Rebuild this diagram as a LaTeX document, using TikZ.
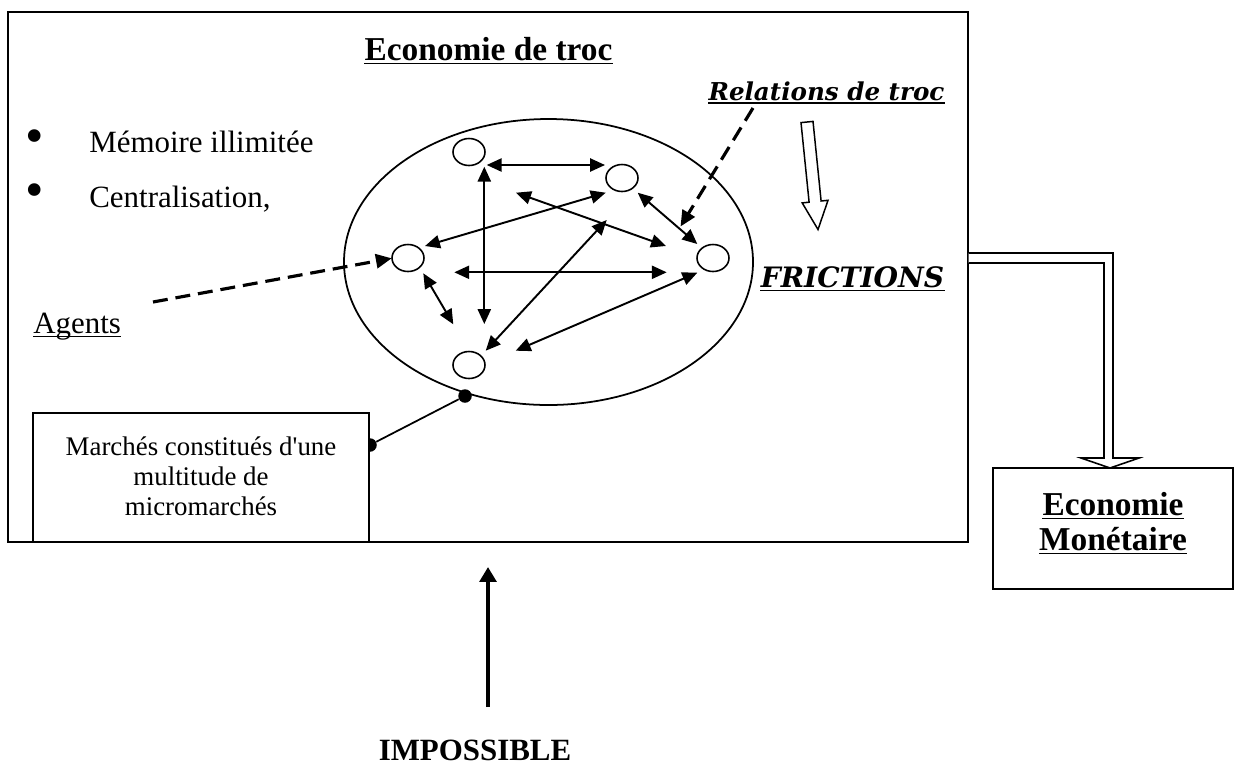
\documentclass[tikz,border=0pt]{standalone}
\usepackage{fontspec}
\setmainfont{Liberation Serif}[Ligatures=TeXOff]
\newfontfamily\dvs{DejaVu Serif}
\usetikzlibrary{arrows.meta,calc,shapes.geometric}
\begin{document}
\begin{tikzpicture}[x=0.02cm,y=-0.02cm,
  frame/.style={draw,line width=1.1pt},
  agent/.style={draw,ellipse,line width=0.9pt,minimum width=0.64cm,minimum height=0.54cm,inner sep=0pt},
  dbl/.style={{Triangle[length=8.5pt,width=7.5pt]}-{Triangle[length=8.5pt,width=7.5pt]},line width=1.1pt},
  dsh/.style={-{Triangle[length=9pt,width=8pt]},line width=1.8pt,dash pattern=on 8.5pt off 4.5pt},
  txt/.style={inner sep=0pt,anchor=base},
  ulline/.style={line width=1.1pt},
  dot/.style={circle,fill,inner sep=0pt,minimum size=0.27cm}]
\useasboundingbox (0,0) rectangle (1239,765);
% main frame
\draw[frame,fill=white] (8,12) rectangle (968,542);
% title
\node[txt,font=\fontsize{19}{22}\selectfont\bfseries] (title) at (488.5,60) {Economie de troc};
\draw[ulline] ([yshift=-2pt]title.base west) -- ([yshift=-2pt]title.base east);
% bullets
\node[inner sep=0pt,font=\fontsize{30}{30}\selectfont] (b1) at (35,142) {\textbullet};
\node[txt,anchor=base west,font=\fontsize{17.6}{20}\selectfont] (t1) at (89,152) {Mémoire illimitée};
\node[inner sep=0pt,font=\fontsize{30}{30}\selectfont] (b2) at (35,196) {\textbullet};
\node[txt,anchor=base west,font=\fontsize{17.6}{20}\selectfont] (t2) at (89,207) {Centralisation,};
% agents label
\node[txt,anchor=base west,font=\fontsize{17.6}{20}\selectfont] (agents) at (33,333) {Agents};
\draw[line width=0.7pt] ([yshift=-2pt]agents.base west) -- ([yshift=-2pt]agents.base east);
% relations / frictions
\node[txt,font=\fontsize{14}{16}\selectfont\dvs\bfseries\itshape] (rel) at (826.5,100) {Relations de troc};
\draw[ulline] ([yshift=-1.5pt]rel.base west) -- ([yshift=-1.5pt]rel.base east);
\node[txt,font=\fontsize{16}{18}\selectfont\dvs\bfseries\itshape] (fric) at (852.5,287) {FRICTIONS};
\draw[ulline] ([yshift=-2pt]fric.base west) -- ([yshift=-2pt]fric.base east);
% hollow arrow relations -> frictions
\draw[line width=0.85pt,fill=white] (801,122.6) -- (813,121.4) -- (821.1,201) -- (828,200.3) -- (818,229.5) -- (802.2,202.9) -- (809.1,202.2) -- cycle;
% big ellipse
\draw[line width=1pt] (548.5,262) ellipse [x radius=204.5, y radius=143];
% agent circles
\node[agent] (ag1) at (469,152) {};
\node[agent] (ag2) at (622,178) {};
\node[agent] (ag3) at (408,258) {};
\node[agent] (ag4) at (713,258) {};
\node[agent] (ag5) at (469,365) {};
% arrow end coordinates
\coordinate (p1a) at (486.7,165);   \coordinate (p1b) at (605,165);
\coordinate (p2a) at (484.3,166.7); \coordinate (p2b) at (484.3,324);
\coordinate (p3a) at (425,246);     \coordinate (p3b) at (605.7,192.7);
\coordinate (p4a) at (516,192.7);   \coordinate (p4b) at (666,246);
\coordinate (p5a) at (454.3,272.3); \coordinate (p5b) at (666.7,272.3);
\coordinate (p6a) at (423.3,273.3); \coordinate (p6b) at (453.3,324.3);
\coordinate (p7a) at (485.7,350.7); \coordinate (p7b) at (606.7,220);
\coordinate (p8a) at (515.7,350.7); \coordinate (p8b) at (697.3,272.7);
\coordinate (p9a) at (637.7,192.7); \coordinate (p9b) at (697.3,244);
\foreach \i in {1,...,9} {\draw[dbl] (p\i a) -- (p\i b);}
% dashed pointers
\coordinate (agstart) at (153,302);
\coordinate (ag3tip) at (391.7,258.3);
\draw[dsh] (agstart) -- (ag3tip);
\coordinate (relstart) at (753,108);
\coordinate (reltip) at (680.5,226.5);
\draw[dsh] (relstart) -- (reltip);
% markets box and connector
\node[dot] (d2) at (465,396) {};
\node[dot] (d1) at (370,445) {};
\draw[line width=1pt] (d1) -- (d2);
\draw[frame,fill=white] (33,413) rectangle (369,542);
\node[align=center,inner sep=0pt,anchor=base,font=\fontsize{15.3}{17}\selectfont] (mtext) at (201,515) {Marchés constitués d'une\\multitude de\\micromarchés};
% double hollow arrow to monetary economy
\draw[line width=0.9pt,fill=white] (968.6,253) -- (1113,253) -- (1113,458) -- (1139,458) -- (1110,468) -- (1081,458) -- (1104,458) -- (1104,263) -- (968.6,263);
\draw[frame] (993,468) rectangle (1233,589);
\node[txt,font=\fontsize{19}{22}\selectfont\bfseries] (em1) at (1113,515) {Economie};
\draw[ulline] ([yshift=-2pt]em1.base west) -- ([yshift=-2pt]em1.base east);
\node[txt,font=\fontsize{19}{22}\selectfont\bfseries] (em2) at (1113,550) {Monétaire};
\draw[ulline] ([yshift=-2pt]em2.base west) -- ([yshift=-2pt]em2.base east);
% impossible
\coordinate (impfrom) at (488,707);
\coordinate (impto) at (488,567);
\draw[-{Triangle[length=8.5pt,width=9.5pt]},line width=2.8pt] (impfrom) -- (impto);
\node[txt,font=\fontsize{17.6}{20}\selectfont\bfseries] (imp) at (475,760) {IMPOSSIBLE};
\end{tikzpicture}
\end{document}
